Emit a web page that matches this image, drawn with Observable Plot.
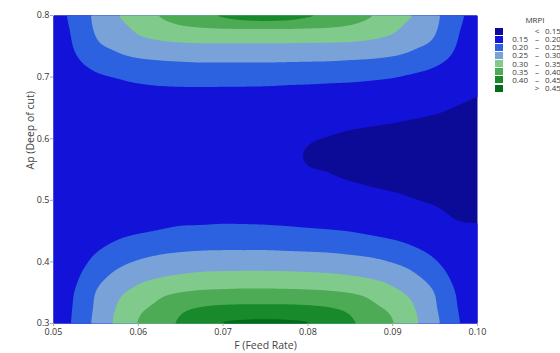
<!DOCTYPE html>
<html><head><meta charset="utf-8">
<script src="https://cdn.jsdelivr.net/npm/d3@7"></script>
<script src="https://cdn.jsdelivr.net/npm/@observablehq/plot@0.6"></script>
<style>
html,body{margin:0;padding:0;background:#fff;overflow:hidden;}
#wrap{position:relative;width:560px;height:353px;font-family:"Open Sans",sans-serif;overflow:hidden;}
#legend{position:absolute;left:0;top:0;width:560px;height:100px;font-size:8px;color:#3a3a3a;white-space:nowrap;pointer-events:none;}
#legend div{position:absolute;line-height:8px;height:8px;}
</style></head><body><div id="wrap"><div id="legend"></div></div>
<script>
// Feed rate (x) and depth of cut (y) sample positions
const feedRates = [0.05,0.0525,0.055,0.0575,0.06,0.0625,0.065,0.0675,0.07,0.0725,0.075,0.0775,0.08,0.0825,0.085,0.0875,0.09,0.0925,0.095,0.0975,0.10];
const depths = [0.30,0.325,0.35,0.375,0.40,0.425,0.45,0.475,0.50,0.525,0.55,0.575,0.60,0.625,0.65,0.675,0.70,0.725,0.75,0.775,0.80];
// MRPI values, one row per depth (bottom to top)
const mrpi = [
[.170,.208,.262,.310,.352,.379,.407,.430,.452,.458,.460,.458,.452,.430,.407,.379,.352,.310,.262,.208,.170],
[.170,.205,.257,.303,.340,.362,.390,.403,.410,.412,.412,.412,.409,.402,.389,.361,.339,.302,.255,.203,.168],
[.170,.201,.251,.289,.315,.339,.351,.358,.361,.363,.363,.362,.360,.356,.349,.336,.312,.286,.248,.198,.166],
[.170,.192,.233,.264,.286,.299,.308,.314,.316,.317,.317,.316,.314,.311,.305,.296,.282,.259,.228,.187,.164],
[.170,.182,.211,.237,.254,.265,.272,.276,.278,.278,.278,.277,.275,.272,.267,.260,.248,.231,.204,.174,.161],
[.169,.175,.193,.209,.224,.233,.238,.241,.242,.242,.242,.240,.238,.236,.231,.225,.215,.200,.183,.164,.157],
[.169,.172,.182,.190,.196,.202,.208,.210,.212,.212,.211,.209,.206,.203,.199,.192,.184,.177,.168,.156,.153],
[.169,.169,.175,.180,.183,.186,.188,.188,.189,.188,.187,.184,.181,.179,.176,.172,.167,.162,.156,.148,.147],
[.169,.168,.171,.173,.175,.176,.177,.177,.176,.175,.173,.171,.167,.164,.161,.159,.156,.151,.147,.142,.141],
[.168,.167,.168,.169,.169,.169,.170,.169,.169,.167,.165,.162,.158,.155,.152,.149,.146,.143,.139,.137,.136],
[.168,.167,.166,.166,.166,.166,.165,.165,.164,.162,.160,.156,.151,.149,.145,.143,.140,.137,.135,.133,.132],
[.168,.167,.166,.165,.164,.164,.163,.163,.162,.160,.158,.154,.149,.146,.142,.140,.137,.135,.133,.131,.130],
[.168,.167,.167,.168,.167,.167,.166,.165,.164,.162,.160,.157,.152,.149,.146,.144,.142,.139,.136,.133,.132],
[.168,.168,.170,.171,.171,.171,.171,.171,.170,.168,.167,.164,.160,.157,.154,.152,.150,.147,.144,.140,.138],
[.169,.171,.175,.178,.179,.179,.179,.179,.178,.177,.176,.173,.170,.168,.166,.164,.162,.159,.155,.149,.145],
[.169,.176,.182,.187,.189,.191,.192,.192,.191,.191,.190,.188,.186,.184,.182,.180,.177,.173,.167,.159,.152],
[.169,.182,.194,.202,.210,.215,.217,.218,.219,.218,.218,.216,.215,.213,.211,.207,.202,.193,.184,.172,.158],
[.171,.193,.215,.233,.242,.247,.250,.252,.252,.252,.252,.251,.250,.249,.246,.243,.237,.227,.209,.187,.163],
[.172,.203,.241,.259,.277,.285,.289,.291,.291,.291,.291,.291,.290,.289,.287,.282,.274,.256,.238,.199,.168],
[.176,.209,.254,.278,.306,.323,.335,.339,.341,.341,.341,.341,.340,.339,.334,.322,.305,.277,.253,.207,.174],
[.180,.215,.260,.297,.324,.351,.370,.388,.405,.420,.425,.420,.405,.388,.370,.351,.324,.297,.260,.215,.180]
];
const thresholds = [0.15,0.20,0.25,0.30,0.35,0.40,0.45];
const colors = ["#0b0b98","#1212d8","#2c62e0","#79a2d8","#80cb8b","#4dab55","#188a2b","#056b1c"];
const legendTitle = "MRPI";
const xTicks = [0.05,0.06,0.07,0.08,0.09,0.10];
const yTicks = [0.3,0.4,0.5,0.6,0.7,0.8];
const xLabel = "F (Feed Rate)";
const yLabel = "Ap (Deep of cut)";

const nx = feedRates.length, ny = depths.length;
const samples = [];
depths.forEach((ap, j) => feedRates.forEach((f, i) => samples.push({f, ap, v: mrpi[j][i]})));

// smooth (Catmull-Rom) interpolation of the regular sample grid onto the raster
function cubic(p0, p1, p2, p3, t) {
  return p1 + 0.5 * t * (p2 - p0 + t * (2 * p0 - 5 * p1 + 4 * p2 - p3 + t * (3 * (p1 - p2) + p3 - p0)));
}
function smoothGrid(index, w, h, X, Y, V) {
  const x0 = X[0], xs = (X[nx - 1] - X[0]) / (nx - 1);
  const y0 = Y[0], ys = (Y[(ny - 1) * nx] - Y[0]) / (ny - 1);
  const g = (i, j) => V[Math.min(ny - 1, Math.max(0, j)) * nx + Math.min(nx - 1, Math.max(0, i))];
  const out = new Float64Array(w * h);
  const r = [0, 0, 0, 0];
  for (let py = 0; py < h; py++) {
    let gy = (py + 0.5 - y0) / ys;
    gy = Math.max(0, Math.min(ny - 1, gy));
    const j = Math.min(ny - 2, Math.floor(gy)), ty = gy - j;
    for (let px = 0; px < w; px++) {
      let gx = (px + 0.5 - x0) / xs;
      gx = Math.max(0, Math.min(nx - 1, gx));
      const i = Math.min(nx - 2, Math.floor(gx)), tx = gx - i;
      for (let m = -1; m <= 2; m++) r[m + 1] = cubic(g(i - 1, j + m), g(i, j + m), g(i + 1, j + m), g(i + 2, j + m), tx);
      out[py * w + px] = cubic(r[0], r[1], r[2], r[3], ty);
    }
  }
  return out;
}

const plot = Plot.plot({
  width: 560, height: 353,
  marginLeft: 53, marginRight: 83, marginTop: 15, marginBottom: 30,
  style: {fontFamily: "Open Sans, sans-serif", fontSize: "9px", color: "#333", background: "transparent"},
  x: {domain: [feedRates[0], feedRates[nx - 1]]},
  y: {domain: [depths[0], depths[ny - 1]]},
  color: {type: "threshold", domain: thresholds, range: colors},
  marks: [
    Plot.contour(samples, {
      x: "f", y: "ap", fill: "v",
      interpolate: smoothGrid, pixelSize: 1,
      thresholds: [0, ...thresholds]
    }),
    Plot.axisX(xTicks, {tickFormat: d3.format(".2f"), tickSize: 3, tickPadding: 2, label: null, stroke: "#aaa", fill: "#333"}),
    Plot.axisY(yTicks, {tickFormat: d3.format(".1f"), tickSize: 3, tickPadding: 1, label: null, stroke: "#aaa", fill: "#333"}),
    Plot.text([xLabel], {frameAnchor: "bottom", dy: 25, fontSize: 10.5, fill: "#444"}),
    Plot.text([yLabel], {frameAnchor: "left", dx: -23, rotate: -90, fontSize: 10.5, fill: "#444"})
  ]
});
const wrap = document.getElementById("wrap");
wrap.insertBefore(plot, wrap.firstChild);

// legend
const lg = document.getElementById("legend");
const fmt = d3.format(".2f");
function add(txt, style) { const d = document.createElement("div"); d.textContent = txt; Object.assign(d.style, style); lg.appendChild(d); }
add(legendTitle, {left: "535px", top: "16px", transform: "translateX(-50%)"});
colors.forEach((c, k) => {
  const cy = 31 + 8.15 * k;
  const sw = document.createElement("div");
  Object.assign(sw.style, {left: "495px", top: (cy - 3.5) + "px", width: "8px", height: "7px", background: c});
  lg.appendChild(sw);
  let lo = "", mid = "", hi = "";
  if (k === 0) { mid = "<"; hi = fmt(thresholds[0]); }
  else if (k === colors.length - 1) { mid = ">"; hi = fmt(thresholds[thresholds.length - 1]); }
  else { lo = fmt(thresholds[k - 1]); mid = "\u2013"; hi = fmt(thresholds[k]); }
  const top = (cy - 4) + "px";
  if (lo) add(lo, {left: "500px", width: "28px", textAlign: "right", top});
  add(mid, {left: "533px", width: "8px", textAlign: "center", top});
  add(hi, {left: "545px", top});
});
</script>
</body></html>
